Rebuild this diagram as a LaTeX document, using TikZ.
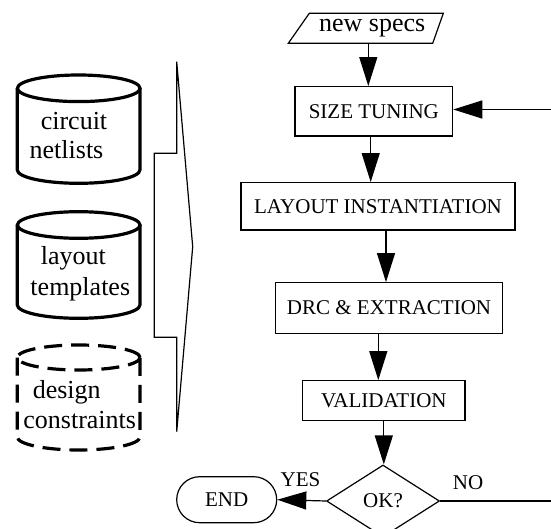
\documentclass[tikz,border=0pt]{standalone}
\usepackage{fontspec}
\setmainfont{Liberation Serif}
\usetikzlibrary{arrows.meta,shapes.geometric}
\tikzset{
  capfont/.style={font=\fontsize{21}{25}\selectfont},
  box/.style={draw, line width=1.2pt, inner sep=0pt, capfont},
  arr/.style={line width=1.2pt, -{Triangle[length=29pt,width=18pt]}},
  thin/.style={line width=1.2pt},
  cyl/.style={line width=3.2pt},
  dcyl/.style={line width=3.2pt, dash pattern=on 18pt off 9pt},
  lbl/.style={font=\fontsize{26}{30}\selectfont, inner sep=0pt, anchor=base},
}
\begin{document}
\begin{tikzpicture}[x=1pt,y=-1pt]
\useasboundingbox (0,0) rectangle (551,529);
\clip (0,0) rectangle (551,529);

% ---- cylinders ----
\draw[cyl] (78.7,88.3) ellipse [x radius=61.3pt, y radius=13.3pt];
\draw[cyl] (17.3,88.3) -- (17.3,170) arc[start angle=180,end angle=360,x radius=61.3pt,y radius=13.3pt] -- (140,88.3);
\node[lbl] (t1a) at (74,129.3) {circuit};
\node[lbl] (t1b) at (66.5,159) {netlists};

\draw[cyl] (78.7,225) ellipse [x radius=61.3pt, y radius=13.3pt];
\draw[cyl] (17.3,225) -- (17.3,305) arc[start angle=180,end angle=360,x radius=61.3pt,y radius=13.3pt] -- (140,225);
\node[lbl] (t2a) at (73.3,265) {layout};
\node[lbl] (t2b) at (80.3,295) {templates};

\draw[dcyl] (78.7,357.5) ellipse [x radius=61.3pt, y radius=12.5pt];
\draw[dcyl] (17.3,357.5) -- (17.3,437) arc[start angle=180,end angle=360,x radius=61.3pt,y radius=13pt] -- (140,357.5);
\node[lbl] (t3a) at (66.7,398.3) {design};
\node[lbl] (t3b) at (79.7,428) {constraints};

% ---- bracket arrow ----
\draw[thin] (176.7,61.7) -- (176.7,153.3) -- (154.3,153.3) -- (154.3,337.3)
  -- (176.7,337.3) -- (176.7,431.7) -- (192.7,246.7) -- cycle;

% ---- flow ----
\draw[thin] (309.3,13.3) -- (443.3,13.3) -- (432.7,43.3) -- (288.3,43.3) -- cycle;
\node[inner sep=0pt, minimum height=30pt, font=\fontsize{26}{30}\selectfont] (spec) at (372.2,28.3) {new specs};

\node[box, minimum width=157.7pt, minimum height=49.3pt] (size) at (373.8,111.3) {SIZE TUNING};
\node[box, minimum width=274pt, minimum height=47.3pt] (lay) at (378,206.3) {LAYOUT INSTANTIATION};
\node[box, minimum width=226.6pt, minimum height=50.6pt] (drc) at (389,308) {DRC \& EXTRACTION};
\node[box, minimum width=162.3pt, minimum height=40pt] (val) at (383.8,400.7) {VALIDATION};
\node[draw, diamond, line width=1.2pt, minimum width=113pt, minimum height=72pt, inner sep=0pt, capfont] (ok) at (383,501) {OK?};
\node[draw, line width=1.2pt, rounded corners=23pt, minimum width=100pt, minimum height=46pt, inner sep=0pt, capfont] (end) at (226.7,499.7) {END};

\node[capfont, inner sep=0pt] (yes) at (300.5,479.3) {YES};
\node[capfont, inner sep=0pt] (no) at (468,483) {NO};

\coordinate (a1) at ([xshift=-3.9pt]spec.south);
\coordinate (a2) at ([xshift=-3.1pt]size.south);
\coordinate (a3) at ([xshift=8pt]lay.south);
\coordinate (a4) at ([xshift=-10.7pt]drc.south);
\coordinate (r1) at (551,109.5);
\coordinate (r2) at (551,501);

\draw[arr] (a1) -- (a1 |- size.north);
\draw[arr] (a2) -- (a2 |- lay.north);
\draw[arr] (a3) -- (a3 |- drc.north);
\draw[arr] (a4) -- (a4 |- val.north);
\draw[arr] (val.south) -- (val.south |- ok.north);
\draw[arr] (r1) -- (r1 -| size.east);
\draw[arr] (ok.west) -- (end.east);
\draw[thin] (ok.east) -- (r2);
\end{tikzpicture}
\end{document}
